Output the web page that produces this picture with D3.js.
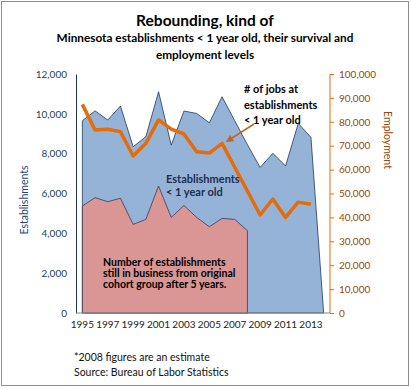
<!DOCTYPE html>
<html><head><meta charset="utf-8">
<script src="https://cdn.jsdelivr.net/npm/d3@7"></script>
<style>body{margin:0;background:#fff}svg{display:block;font-family:Lato,"Open Sans",sans-serif}</style>
</head><body>
<script>
const years = [1995,1996,1997,1998,1999,2000,2001,2002,2003,2004,2005,2006,2007,2008,2009,2010,2011,2012,2013,2014];
const newEstablishments = [9650,10150,9690,10390,8350,8850,11110,8430,10140,10020,9550,10860,9650,8450,7310,8020,7380,9520,8820,0];
const survivingEstablishments = [5370,5790,5590,5760,4450,4700,6375,4800,5400,4800,4330,4750,4700,4130];
const jobs = [87300,76600,76900,75900,65700,71000,80800,76900,74900,67500,66900,71000,61000,51000,41000,47700,40000,46400,45500];
const leftTicks = [0,2000,4000,6000,8000,10000,12000];
const rightTicks = [0,10000,20000,30000,40000,50000,60000,70000,80000,90000,100000];
const yearLabels = [1995,1997,1999,2001,2003,2005,2007,2009,2011,2013];

const W=411,H=388;
const svg=d3.select("body").append("svg").attr("width",W).attr("height",H);
svg.append("rect").attr("x",1.5).attr("y",1.5).attr("width",407).attr("height",384).attr("fill","#fff").attr("stroke","#8c8c8c");

const x=d3.scaleBand().domain(years).range([76,330]);
const cx=d=>x(d)+x.bandwidth()/2;
const yL=d3.scaleLinear().domain([0,12000]).range([313,74]);
const yR=d3.scaleLinear().domain([0,100000]).range([313,74]);

// titles
svg.append("text").attr("x",205).attr("y",26).attr("text-anchor","middle").attr("font-size",15.5).attr("font-weight","bold").text("Rebounding, kind of");
svg.append("text").attr("x",205).attr("y",42).attr("text-anchor","middle").attr("font-size",11.8).attr("font-weight","bold").text("Minnesota  establishments < 1 year old, their survival  and");
svg.append("text").attr("x",205).attr("y",59).attr("text-anchor","middle").attr("font-size",11.8).attr("font-weight","bold").text("employment levels");

// areas
const blueArea=d3.area().x((d,i)=>cx(years[i])).y0(yL(0)).y1(d=>yL(d));
svg.append("path").datum(newEstablishments).attr("d",blueArea).attr("fill","#95b3d7").attr("stroke","#1f3864").attr("stroke-width",0.8);
svg.append("path").datum(survivingEstablishments).attr("d",blueArea).attr("fill","#d99694").attr("stroke","#3a3a5a").attr("stroke-width",0.8);

// axes
const gL=svg.append("g").attr("transform","translate(76,0)").call(d3.axisLeft(yL).tickValues(leftTicks).tickSize(0).tickPadding(9).tickFormat(d3.format(",")));
gL.select(".domain").attr("stroke","#1f3864");
gL.selectAll("text").attr("font-size",10).attr("fill","#243f60").attr("font-family","Lato,sans-serif");

const gR=svg.append("g").attr("transform","translate(330,0)").call(d3.axisRight(yR).tickValues(rightTicks).tickSize(4).tickPadding(5).tickFormat(d3.format(",")));
gR.select(".domain").attr("stroke","#e46c0a").attr("d","M0,74V313");
gR.selectAll("line").attr("stroke","#e46c0a");
gR.selectAll("text").attr("font-size",10).attr("fill","#984807").attr("font-family","Lato,sans-serif");

const gX=svg.append("g").attr("transform","translate(0,313)").call(d3.axisBottom(x).tickValues(yearLabels).tickSize(0).tickPadding(8));
gX.select(".domain").attr("stroke","#888").attr("d","M76,0H330");
gX.selectAll("text").attr("font-size",10).attr("fill","#222").attr("font-family","Lato,sans-serif");

// jobs line
svg.append("path").datum(jobs).attr("d",d3.line().x((d,i)=>cx(years[i])).y(d=>yR(d)))
  .attr("fill","none").attr("stroke","#e46c0a").attr("stroke-width",3.5).attr("stroke-linejoin","round");

// axis titles
svg.append("text").attr("transform","translate(28,200) rotate(-90)").attr("text-anchor","middle").attr("font-size",10.5).attr("fill","#1f497d").text("Establishments");
svg.append("text").attr("transform","translate(384,140) rotate(90)").attr("text-anchor","middle").attr("font-size",10.5).attr("fill","#984807").text("Employment");

// annotations
const ann=(lines,x0,y0,dy,fs,col)=>{const t=svg.append("text").attr("font-size",fs).attr("font-weight","bold").attr("fill",col);
  lines.forEach((l,i)=>t.append("tspan").attr("x",x0).attr("y",y0+i*dy).text(l));};
ann(["# of jobs at","establishments","< 1 year old"],244,93,15.5,11,"#000");
ann(["Establishments","< 1 year old"],166,183,13,11,"#1f2d4d");
ann(["Number of establishments","still in business from original","cohort group after 5 years."],103,266,11.2,10.5,"#000");

svg.append("defs").append("marker").attr("id","ah").attr("viewBox","0 0 10 10").attr("refX",5).attr("refY",5)
  .attr("markerWidth",5).attr("markerHeight",5).attr("orient","auto").append("path").attr("d","M0,0L10,5L0,10z").attr("fill","#c0661f");
svg.append("line").attr("x1",254).attr("y1",124).attr("x2",229).attr("y2",140).attr("stroke","#c0661f").attr("stroke-width",1.5).attr("marker-end","url(#ah)");

// footer
svg.append("text").attr("x",74).attr("y",361).attr("font-size",10.5).attr("fill","#111").text("*2008 figures are an estimate");
svg.append("text").attr("x",74).attr("y",376).attr("font-size",10.5).attr("fill","#111").text("Source: Bureau of Labor Statistics");
</script>
</body></html>
